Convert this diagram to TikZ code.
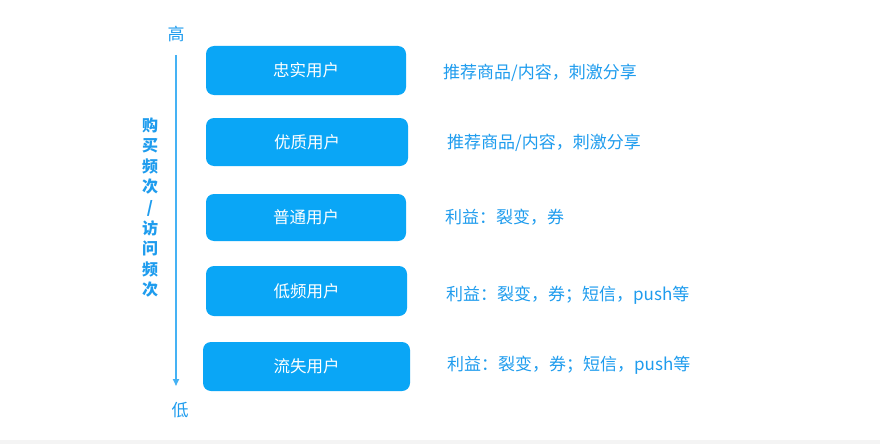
\documentclass[tikz,border=0pt]{standalone}
\usepackage{fontspec}
\newfontfamily\cjk{Noto Sans CJK SC}
\usetikzlibrary{arrows.meta}
\definecolor{boxblue}{HTML}{0AA6F6}
\definecolor{txtblue}{HTML}{1E9CEE}
\definecolor{lineblue}{HTML}{45B2F4}
\definecolor{strip}{HTML}{F4F4F4}
\tikzset{
  userbox/.style={fill=boxblue, draw=none, rounded corners=8pt, minimum width=200pt, minimum height=49pt, text=white, font=\cjk\fontsize{16.5}{16.5}\selectfont, inner sep=0pt},
  note/.style={anchor=west, text=txtblue, font=\cjk\fontsize{17}{17}\selectfont, inner sep=0pt},
  axislbl/.style={text=txtblue, font=\cjk\fontsize{17}{17}\selectfont, inner sep=0pt},
  vlbl/.style={text=txtblue, font=\cjk\bfseries\fontsize{16}{20.6}\selectfont, inner sep=0pt, align=center}
}
\begin{document}
\begin{tikzpicture}[x=1pt,y=-1pt]
\fill[white] (0,0) rectangle (880,444);
\useasboundingbox (0,0) rectangle (880,444);
\fill[strip] (0,440) rectangle (880,444);
\node[axislbl] (high) at (176,34) {高};
\node[axislbl] (low) at (180,410) {低};
\coordinate (astart) at (176,55);
\coordinate (aend) at (176,386);
\draw[lineblue, line width=1.6pt, -{Triangle[length=7pt,width=6pt]}] (astart) -- (aend);
\node[vlbl] (vtext) at (150,207.5) {购\\买\\频\\次\\/\\访\\问\\频\\次};
\node[userbox] (b1) at (306,70.5) {忠实用户};
\node[userbox, minimum width=202pt, minimum height=48pt] (b2) at (307,142) {优质用户};
\node[userbox, minimum height=47pt] (b3) at (306,217.5) {普通用户};
\node[userbox, minimum width=201pt, minimum height=50pt] (b4) at (306.5,291) {低频用户};
\node[userbox, minimum width=207pt] (b5) at (306.5,366.5) {流失用户};
\node[note] (n1) at (443,73) {推荐商品/内容，刺激分享};
\node[note] (n2) at (447,143) {推荐商品/内容，刺激分享};
\node[note] (n3) at (445,217) {利益：裂变，券};
\node[note] (n4) at (446,295) {利益：裂变，券；短信，push等};
\node[note] (n5) at (447,365) {利益：裂变，券；短信，push等};
\end{tikzpicture}
\end{document}
